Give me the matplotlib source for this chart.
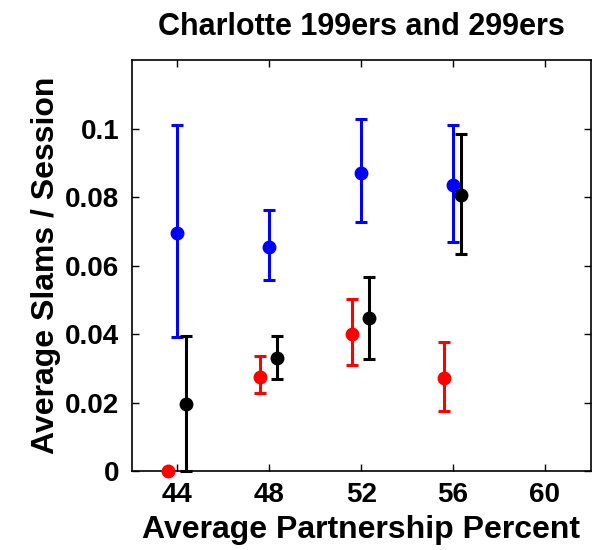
import matplotlib
matplotlib.use("Agg")
import matplotlib.pyplot as plt

# partnership percent buckets
pct = [44, 48, 52, 56]

# blue series
blue_y = [0.0695, 0.0653, 0.0870, 0.0834]
blue_lo = [0.0391, 0.0558, 0.0727, 0.0669]
blue_hi = [0.1010, 0.0763, 0.1027, 0.1010]

# red series (shifted left)
red_y = [0.0, 0.0276, 0.0400, 0.0271]
red_lo = [0.0, 0.0227, 0.0310, 0.0175]
red_hi = [0.0, 0.0337, 0.0501, 0.0376]

# black series (shifted right)
black_y = [0.0195, 0.0330, 0.0447, 0.0806]
black_lo = [0.0, 0.0268, 0.0328, 0.0633]
black_hi = [0.0393, 0.0393, 0.0568, 0.0984]

plt.rcParams['font.family'] = ['Liberation Sans', 'DejaVu Sans']

fig = plt.figure(figsize=(5.98, 5.5), dpi=100)
ax = fig.add_axes([0.220, 0.1436, 0.768, 0.747])

def draw(offset, y, lo, hi, color):
    xs = [p + offset for p in pct]
    err = [[v - l for v, l in zip(y, lo)], [h - v for v, h in zip(y, hi)]]
    ax.errorbar(xs, y, yerr=err, fmt='o', color=color, ecolor=color,
                markersize=9, elinewidth=2.2, capsize=4, capthick=2.2,
                clip_on=False, zorder=3)

draw(0.0, blue_y, blue_lo, blue_hi, '#0000ff')
draw(-0.4, red_y, red_lo, red_hi, '#ff0000')
draw(0.35, black_y, black_lo, black_hi, 'black')

ax.set_xlim(42, 62)
ax.set_ylim(0, 0.12)
ax.set_xticks([44, 48, 52, 56, 60])
ax.set_yticks([0, 0.02, 0.04, 0.06, 0.08, 0.1])
ax.set_yticklabels(['0', '0.02', '0.04', '0.06', '0.08', '0.1'])
ax.tick_params(direction='in', top=True, right=True, length=5, width=1,
               labelsize=20)
ax.tick_params(axis='x', pad=8)
ax.tick_params(axis='y', pad=9)
for lab in ax.get_xticklabels() + ax.get_yticklabels():
    lab.set_fontweight('bold')
for s in ax.spines.values():
    s.set_linewidth(1.2)

ax.set_xlabel('Average Partnership Percent', fontsize=23, fontweight='bold', labelpad=5)
ax.set_ylabel('Average Slams / Session', fontsize=23, fontweight='bold', labelpad=3)
ax.set_title('Charlotte 199ers and 299ers', fontsize=22, fontweight='bold', pad=18)

fig.savefig('out.png', dpi=100)
